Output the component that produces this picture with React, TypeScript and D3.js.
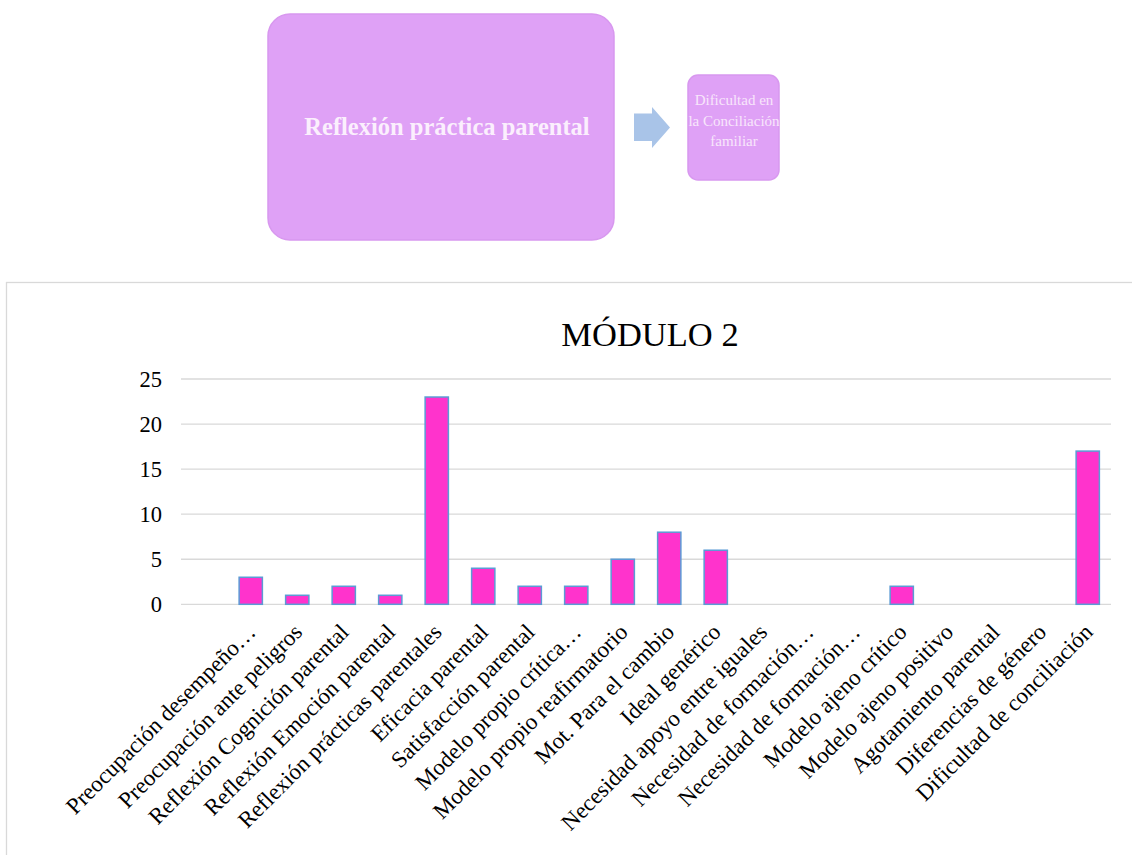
import React from "react";
import * as d3 from "d3";

const categories: string[] = [
  "",
  "Preocupación desempeño…",
  "Preocupación ante peligros",
  "Reflexión Cognición parental",
  "Reflexión Emoción parental",
  "Reflexión prácticas parentales",
  "Eficacia parental",
  "Satisfacción parental",
  "Modelo propio crítica…",
  "Modelo propio reafirmatorio",
  "Mot. Para el cambio",
  "Ideal genérico",
  "Necesidad apoyo entre iguales",
  "Necesidad de formación…",
  "Necesidad de formación…",
  "Modelo ajeno crítico",
  "Modelo ajeno positivo",
  "Agotamiento parental",
  "Diferencias de género",
  "Dificultad de conciliación",
];
const values: number[] = [0, 3, 1, 2, 1, 23, 4, 2, 2, 5, 8, 6, 0, 0, 0, 2, 0, 0, 0, 17];
const yTicks: number[] = [0, 5, 10, 15, 20, 25];
const chartTitle = "MÓDULO 2";
const boxMain = "Reflexión práctica parental";
const boxSmallLines: string[] = ["Dificultad en", "la Conciliación", "familiar"];

const FONT = "'Times New Roman', 'Liberation Serif', serif";

export default function App() {
  const x = d3
    .scaleBand<number>()
    .domain(categories.map((_, i) => i))
    .range([181, 1111])
    .paddingInner(0.5)
    .paddingOuter(0.25);
  const y = d3.scaleLinear().domain([0, 25]).range([604.3, 379]);
  const plotMid = (181 + 1111) / 2;

  return (
    <svg
      width={1132}
      height={855}
      style={{ position: "absolute", left: 0, top: 0, background: "#fff" }}
    >
      {/* top diagram */}
      <rect x={268} y={14} width={346} height={226} rx={22} fill="#DFA1F6" stroke="#D898EF" strokeWidth={1.5} />
      <text x={447} y={135} textAnchor="middle" fontFamily={FONT} fontWeight="bold" fontSize={24.5} fill="#FBEFFD">
        {boxMain}
      </text>
      <path d="M634,113.5 L652,113.5 L652,107 L670,127.5 L652,148 L652,141 L634,141 Z" fill="#A9C4E8" />
      <rect x={688} y={75} width={91} height={105} rx={10} fill="#DFA1F6" stroke="#D898EF" strokeWidth={1.5} />
      {boxSmallLines.map((t, i) => (
        <text key={i} x={734} y={105 + i * 20.5} textAnchor="middle" fontFamily={FONT} fontSize={15} fill="#F8E6FB">
          {t}
        </text>
      ))}

      {/* chart frame */}
      <rect x={6.5} y={282.5} width={1200} height={700} fill="#fff" stroke="#D9D9D9" strokeWidth={1.3} />
      <text x={plotMid + 4} y={346} textAnchor="middle" fontFamily={FONT} fontSize={34.5} fill="#000">
        {chartTitle}
      </text>

      {/* gridlines */}
      {yTicks.map((t) => (
        <g key={t}>
          <line x1={181} x2={1111} y1={y(t)} y2={y(t)} stroke="#D9D9D9" strokeWidth={1.3} />
          <text x={162} y={y(t)} dy="0.35em" textAnchor="end" fontFamily={FONT} fontSize={22.5} fill="#000">
            {t}
          </text>
        </g>
      ))}

      {/* bars */}
      {values.map((v, i) =>
        v > 0 ? (
          <rect
            key={i}
            x={x(i)!}
            y={y(v)}
            width={x.bandwidth()}
            height={y(0) - y(v)}
            fill="#FF33CC"
            stroke="#5B9BD5"
            strokeWidth={1.5}
          />
        ) : null
      )}

      {/* x labels */}
      {categories.map((c, i) => {
        const cx = x(i)! + x.bandwidth() / 2 - 5;
        const cy = 622;
        return (
          <text
            key={i}
            transform={`translate(${cx},${cy}) rotate(-45)`}
            dy="0.7em"
            textAnchor="end"
            fontFamily={FONT}
            fontSize={23}
            fill="#000"
          >
            {c}
          </text>
        );
      })}
    </svg>
  );
}
